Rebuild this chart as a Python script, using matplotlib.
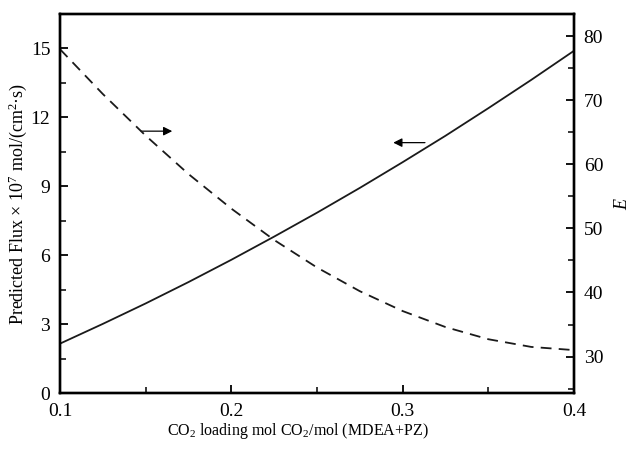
import matplotlib
matplotlib.use('Agg')
import matplotlib.pyplot as plt
from matplotlib.ticker import MultipleLocator, FormatStrFormatter

plt.rcParams['font.family'] = ['Liberation Serif', 'DejaVu Serif']
plt.rcParams['mathtext.fontset'] = 'custom'
plt.rcParams['mathtext.rm'] = 'Liberation Serif'
plt.rcParams['mathtext.it'] = 'Liberation Serif:italic'

# CO2 loading
loading = [0.10, 0.125, 0.15, 0.175, 0.20, 0.225, 0.25, 0.275, 0.30,
           0.325, 0.35, 0.375, 0.40]
# predicted flux x 10^7 (left axis, solid)
flux = [2.15, 3.01, 3.90, 4.83, 5.80, 6.81, 7.85, 8.93, 10.05,
        11.20, 12.40, 13.63, 14.90]
# enhancement factor E (right axis, dashed)
enh = [78.0, 71.0, 64.5, 58.5, 53.1, 48.2, 43.9, 40.2, 37.1,
       34.6, 32.7, 31.5, 31.0]

fig = plt.figure(figsize=(6.31, 4.49), dpi=100)
ax = fig.add_axes([0.0951, 0.1247, 0.8146, 0.8441])
ax2 = ax.twinx()

ax.plot(loading, flux, color='#1a1a1a', lw=1.3)
ax2.plot(loading, enh, color='#1a1a1a', lw=1.3, linestyle=(0, (6, 4)))

ax.set_xlim(0.1, 0.4)
ax.set_ylim(0, 16.5)
ax2.set_ylim(24.3, 83.5)

ax.xaxis.set_major_locator(MultipleLocator(0.1))
ax.xaxis.set_minor_locator(MultipleLocator(0.05))
ax.yaxis.set_major_locator(MultipleLocator(3))
ax.yaxis.set_minor_locator(MultipleLocator(1.5))
ax2.yaxis.set_major_locator(MultipleLocator(10))
ax2.yaxis.set_minor_locator(MultipleLocator(5))
ax.xaxis.set_major_formatter(FormatStrFormatter('%.1f'))

for a in (ax, ax2):
    a.tick_params(which='major', direction='in', length=6, width=1.3, labelsize=14, pad=7)
    a.tick_params(which='minor', direction='in', length=4, width=1.1)
    for s in a.spines.values():
        s.set_linewidth(1.7)
ax.tick_params(axis='x', pad=7)

ax.set_xlabel('CO$_2$ loading mol CO$_2$/mol (MDEA+PZ)', fontsize=11.5)
ax.xaxis.set_label_coords(0.463, -0.075)
ax.set_ylabel('Predicted Flux \u00d7 10$^7$ mol/(cm$^2$\u00b7s)', fontsize=13, labelpad=1)
ax2.set_ylabel('$\\it{E}$', fontsize=13, labelpad=8, rotation=90)

# arrows showing which axis each curve belongs to
ax.annotate('', xy=(0.1655, 11.4), xytext=(0.1473, 11.4),
            arrowprops=dict(arrowstyle='-|>', color='black', lw=0.9,
                            mutation_scale=13, shrinkA=0, shrinkB=0))
ax.annotate('', xy=(0.2945, 10.9), xytext=(0.313, 10.9),
            arrowprops=dict(arrowstyle='-|>', color='black', lw=0.9,
                            mutation_scale=13, shrinkA=0, shrinkB=0))

fig.savefig('out.png', dpi=100)
